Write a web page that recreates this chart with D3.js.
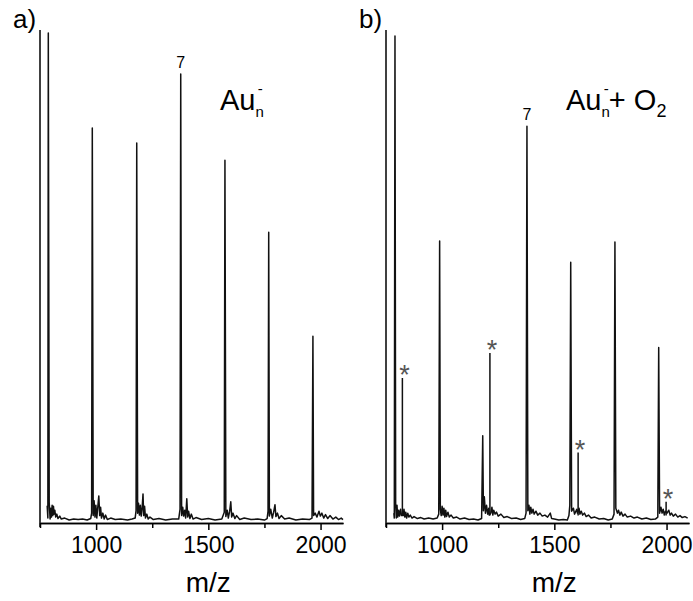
<!DOCTYPE html>
<html>
    <head>
        <meta charset="utf-8">
        <title>Au cluster spectra</title>
        <style>
body {
    margin: 0;
    background-color: white;
}

svg text {
    font-family: 'Liberation Sans', Arial, sans-serif;
    fill: black;
}

.trace {
    fill: none;
    stroke: #111;
    stroke-width: 1.5;
    stroke-linejoin: round;
}

.axis path, .axis line {
    stroke: black;
    stroke-width: 1.5;
}
</style>
        <script src="https://cdn.jsdelivr.net/npm/d3@7"></script>
    </head>
    <body>
        <script>
// tick values on the m/z axis
var majorTicks = [1000, 1500, 2000];
var minorTicks = [750, 1250, 1750];

// panel a: Au_n- peaks (n = 4..10)
var peakMzA = [787, 983, 1181, 1377, 1574, 1769, 1966];
var peakIntA = [99.4, 80.1, 77.1, 91.1, 73.6, 59.0, 37.9];

// panel b: Au_n- + O2 peaks, then the oxide peaks marked with *
var peakMzB = [790, 989, 1181, 1378, 1573, 1770, 1965];
var peakIntB = [98.8, 57.2, 17.7, 80.5, 52.9, 57.0, 35.6];
var starMzB = [823, 1213, 1606, 1998];
var starIntB = [29.4, 34.5, 14.3, 4.3];

// low level signal between the peaks [m/z, intensity]
var noiseA = [
    [782, 3.5], [785, 1.0], [791, 4.2], [795, 0.8], [798, 3.0], [801, 1.2], [804, 3.6], [807, 1.5],
    [810, 3.4], [813, 1.8], [816, 2.6], [820, 1.2], [825, 1.8], [830, 0.9], [838, 1.4], [845, 0.8],
    [860, 1.0], [880, 0.6], [900, 0.8], [920, 0.7], [940, 0.8], [960, 0.6], [976, 0.9], [980, 2.0],
    [987, 1.5], [991, 4.5], [995, 1.2], [999, 3.6], [1003, 1.0], [1007, 3.0], [1012, 5.5], [1016, 1.5],
    [1020, 3.2], [1024, 1.0], [1030, 2.0], [1036, 0.8], [1042, 1.6], [1050, 0.7], [1065, 1.0], [1085, 0.7],
    [1110, 0.8], [1140, 0.6], [1160, 0.8], [1174, 1.0], [1178, 2.5], [1185, 2.0], [1189, 4.0], [1193, 1.6],
    [1197, 3.6], [1201, 1.4], [1205, 3.0], [1209, 5.9], [1212, 1.5], [1216, 3.4], [1220, 1.0], [1226, 1.8],
    [1232, 0.8], [1240, 1.2], [1255, 0.7], [1280, 0.9], [1310, 0.6], [1340, 0.8], [1368, 0.8], [1374, 2.8],
    [1381, 1.5], [1386, 3.2], [1390, 1.4], [1395, 2.6], [1399, 1.0], [1404, 4.9], [1408, 1.2], [1412, 2.4],
    [1418, 0.9], [1424, 1.8], [1432, 0.8], [1445, 1.1], [1470, 0.7], [1500, 0.9], [1530, 0.6], [1560, 0.8],
    [1571, 2.2], [1578, 1.3], [1584, 2.6], [1589, 1.0], [1595, 2.4], [1600, 4.3], [1604, 1.2], [1610, 2.0],
    [1618, 0.9], [1626, 1.5], [1640, 0.7], [1660, 1.0], [1690, 0.7], [1720, 0.8], [1750, 0.6], [1762, 0.9],
    [1766, 2.4], [1772, 1.4], [1778, 2.8], [1785, 1.0], [1791, 2.2], [1797, 3.7], [1801, 1.3], [1808, 2.0],
    [1815, 0.9], [1825, 1.5], [1840, 0.8], [1860, 1.0], [1890, 0.6], [1920, 0.8], [1950, 0.7], [1962, 1.0],
    [1969, 1.5], [1976, 2.0], [1984, 1.2], [1993, 2.4], [1999, 1.4], [2006, 2.0], [2014, 1.0], [2022, 1.7],
    [2032, 0.9], [2042, 1.5], [2055, 0.8], [2068, 1.2], [2080, 0.7], [2092, 1.0], [2100, 0.7]
];

var noiseB = [
    [785, 2.0], [787, 1.0], [793, 4.0], [796, 1.0], [799, 3.6], [802, 1.2], [806, 2.6], [810, 1.4],
    [815, 2.8], [819, 1.5], [827, 1.5], [830, 2.8], [834, 1.2], [838, 2.2], [842, 1.0], [847, 2.0],
    [852, 1.2], [858, 1.6], [866, 1.0], [875, 1.3], [890, 0.9], [905, 1.1], [920, 0.8], [940, 1.0],
    [960, 0.8], [978, 1.0], [985, 1.8], [992, 2.8], [996, 1.5], [1000, 3.4], [1004, 1.6], [1008, 3.0],
    [1012, 1.2], [1016, 2.6], [1020, 1.3], [1026, 2.2], [1032, 1.2], [1040, 1.6], [1050, 1.0], [1065, 1.2],
    [1080, 0.8], [1100, 1.0], [1120, 0.7], [1140, 0.8], [1160, 0.6], [1176, 0.9], [1184, 2.5], [1188, 5.3],
    [1193, 2.0], [1198, 3.6], [1203, 1.8], [1208, 3.0], [1210, 1.6], [1217, 2.0], [1222, 3.2], [1226, 1.6],
    [1230, 2.6], [1236, 1.8], [1242, 2.2], [1250, 1.4], [1262, 1.8], [1275, 1.1], [1290, 1.3], [1310, 0.9],
    [1330, 1.0], [1350, 0.7], [1368, 0.9], [1374, 2.0], [1382, 2.5], [1387, 3.6], [1391, 1.8], [1395, 3.2],
    [1400, 2.0], [1405, 2.8], [1410, 1.8], [1418, 2.4], [1426, 1.6], [1436, 2.0], [1446, 1.4], [1458, 1.6],
    [1470, 1.2], [1482, 2.0], [1488, 0.9], [1500, 0.8], [1520, 0.6], [1540, 0.7], [1558, 0.6], [1565, 1.5],
    [1569, 3.6], [1577, 2.4], [1585, 3.0], [1590, 1.8], [1600, 2.8], [1603, 2.0], [1610, 3.0], [1614, 1.8],
    [1620, 2.4], [1626, 1.6], [1634, 2.0], [1642, 1.3], [1652, 1.6], [1664, 1.0], [1680, 1.2], [1700, 0.8],
    [1720, 0.9], [1740, 0.6], [1758, 0.8], [1766, 1.8], [1774, 3.0], [1781, 2.0], [1786, 2.6], [1792, 1.6],
    [1798, 2.2], [1806, 1.4], [1815, 1.8], [1825, 1.2], [1840, 1.4], [1855, 1.0], [1870, 1.2], [1890, 0.8],
    [1910, 1.0], [1930, 0.7], [1950, 0.8], [1961, 1.2], [1969, 2.0], [1975, 3.2], [1980, 2.0], [1985, 2.8],
    [1990, 1.6], [1995, 2.4], [2002, 2.0], [2010, 2.6], [2016, 1.6], [2022, 2.0], [2030, 1.4], [2040, 1.8],
    [2050, 1.2], [2060, 1.5], [2070, 1.1], [2082, 1.3], [2094, 1.0]
];

var width = 693,
    height = 601;

var svg = d3.select('body')
    .append('svg')
    .attr('width', width)
    .attr('height', height);

var y = d3.scaleLinear()
    .domain([0, 100])
    .range([523, 30]);

var drawPanel = function (left, right, noise, peakMz, peakInt, tag) {
    var x = d3.scaleLinear()
        .domain([750, 2100])
        .range([left, right]);

    var pts = noise.slice();
    peakMz.forEach(function (m, i) {
        pts.push([m, peakInt[i]]);
    });
    pts.sort(function (a, b) { return a[0] - b[0]; });

    var line = d3.line()
        .x(function (d) { return x(d[0]); })
        .y(function (d) { return y(d[1]); });

    svg.append('path')
        .datum(pts)
        .attr('class', 'trace')
        .attr('d', line);

    // left axis is a bare line
    svg.append('line')
        .attr('x1', left).attr('x2', left)
        .attr('y1', y(100)).attr('y2', y(0) + 4)
        .style('stroke', 'black')
        .style('stroke-width', 1.5);

    svg.append('g')
        .attr('class', 'axis')
        .attr('transform', 'translate(0,' + y(0) + ')')
        .call(d3.axisBottom(x).tickValues(minorTicks).tickSize(5).tickSizeOuter(0).tickFormat(''));

    var majorAxis = svg.append('g')
        .attr('class', 'axis')
        .attr('transform', 'translate(0,' + y(0) + ')')
        .call(d3.axisBottom(x).tickValues(majorTicks).tickSize(7).tickSizeOuter(0)
            .tickPadding(7).tickFormat(d3.format('d')));

    majorAxis.selectAll('text')
        .style('font-family', "'Liberation Sans', Arial, sans-serif")
        .style('font-size', '23px')
        .style('fill', 'black');

    svg.append('text')
        .attr('x', x(1500))
        .attr('y', 592)
        .attr('text-anchor', 'middle')
        .style('font-size', '28px')
        .text('m/z');

    // the n = 7 marker
    svg.append('text')
        .attr('x', x(peakMz[3]))
        .attr('y', y(peakInt[3]) - 6)
        .attr('text-anchor', 'middle')
        .style('font-size', '16px')
        .text('7');

    svg.append('text')
        .attr('x', left - 27)
        .attr('y', 28)
        .style('font-size', '26px')
        .text(tag);

    return x;
};

var xa = drawPanel(40, 343, noiseA, peakMzA, peakIntA, 'a)');
var xb = drawPanel(386, 689, noiseB, peakMzB, peakIntB, 'b)');

// oxide peaks in b, drawn as spikes from the baseline
svg.append('path')
    .datum(starMzB.map(function (m, i) { return [m, starIntB[i]]; }))
    .attr('class', 'trace')
    .attr('d', function (d) {
        return d.map(function (p) {
            return 'M' + xb(p[0]) + ',' + y(1.5) + 'V' + y(p[1]);
        }).join('');
    });

svg.selectAll('.star')
    .data(starMzB)
    .enter()
    .append('text')
    .attr('class', 'star')
    .attr('x', function (d) { return xb(d) + 2; })
    .attr('y', function (d, i) { return y(starIntB[i]) + 6; })
    .attr('text-anchor', 'middle')
    .style('font-size', '27px')
    .style('fill', '#555')
    .text('*');

// species labels
var labA = svg.append('text')
    .attr('x', 220)
    .attr('y', 110)
    .style('font-size', '29px');
labA.append('tspan').text('Au');
labA.append('tspan').attr('dy', 7).style('font-size', '15px').text('n');
labA.append('tspan').attr('dx', -6).attr('dy', -23).style('font-size', '15px').text('-');

var labB = svg.append('text')
    .attr('x', 566)
    .attr('y', 110)
    .style('font-size', '29px');
labB.append('tspan').text('Au');
labB.append('tspan').attr('dy', 7).style('font-size', '15px').text('n');
labB.append('tspan').attr('dx', -6).attr('dy', -23).style('font-size', '15px').text('-');
labB.append('tspan').attr('dy', 16).text('+ O');
labB.append('tspan').attr('dy', 7).style('font-size', '18px').text('2');

        </script>
    </body>
</html>
